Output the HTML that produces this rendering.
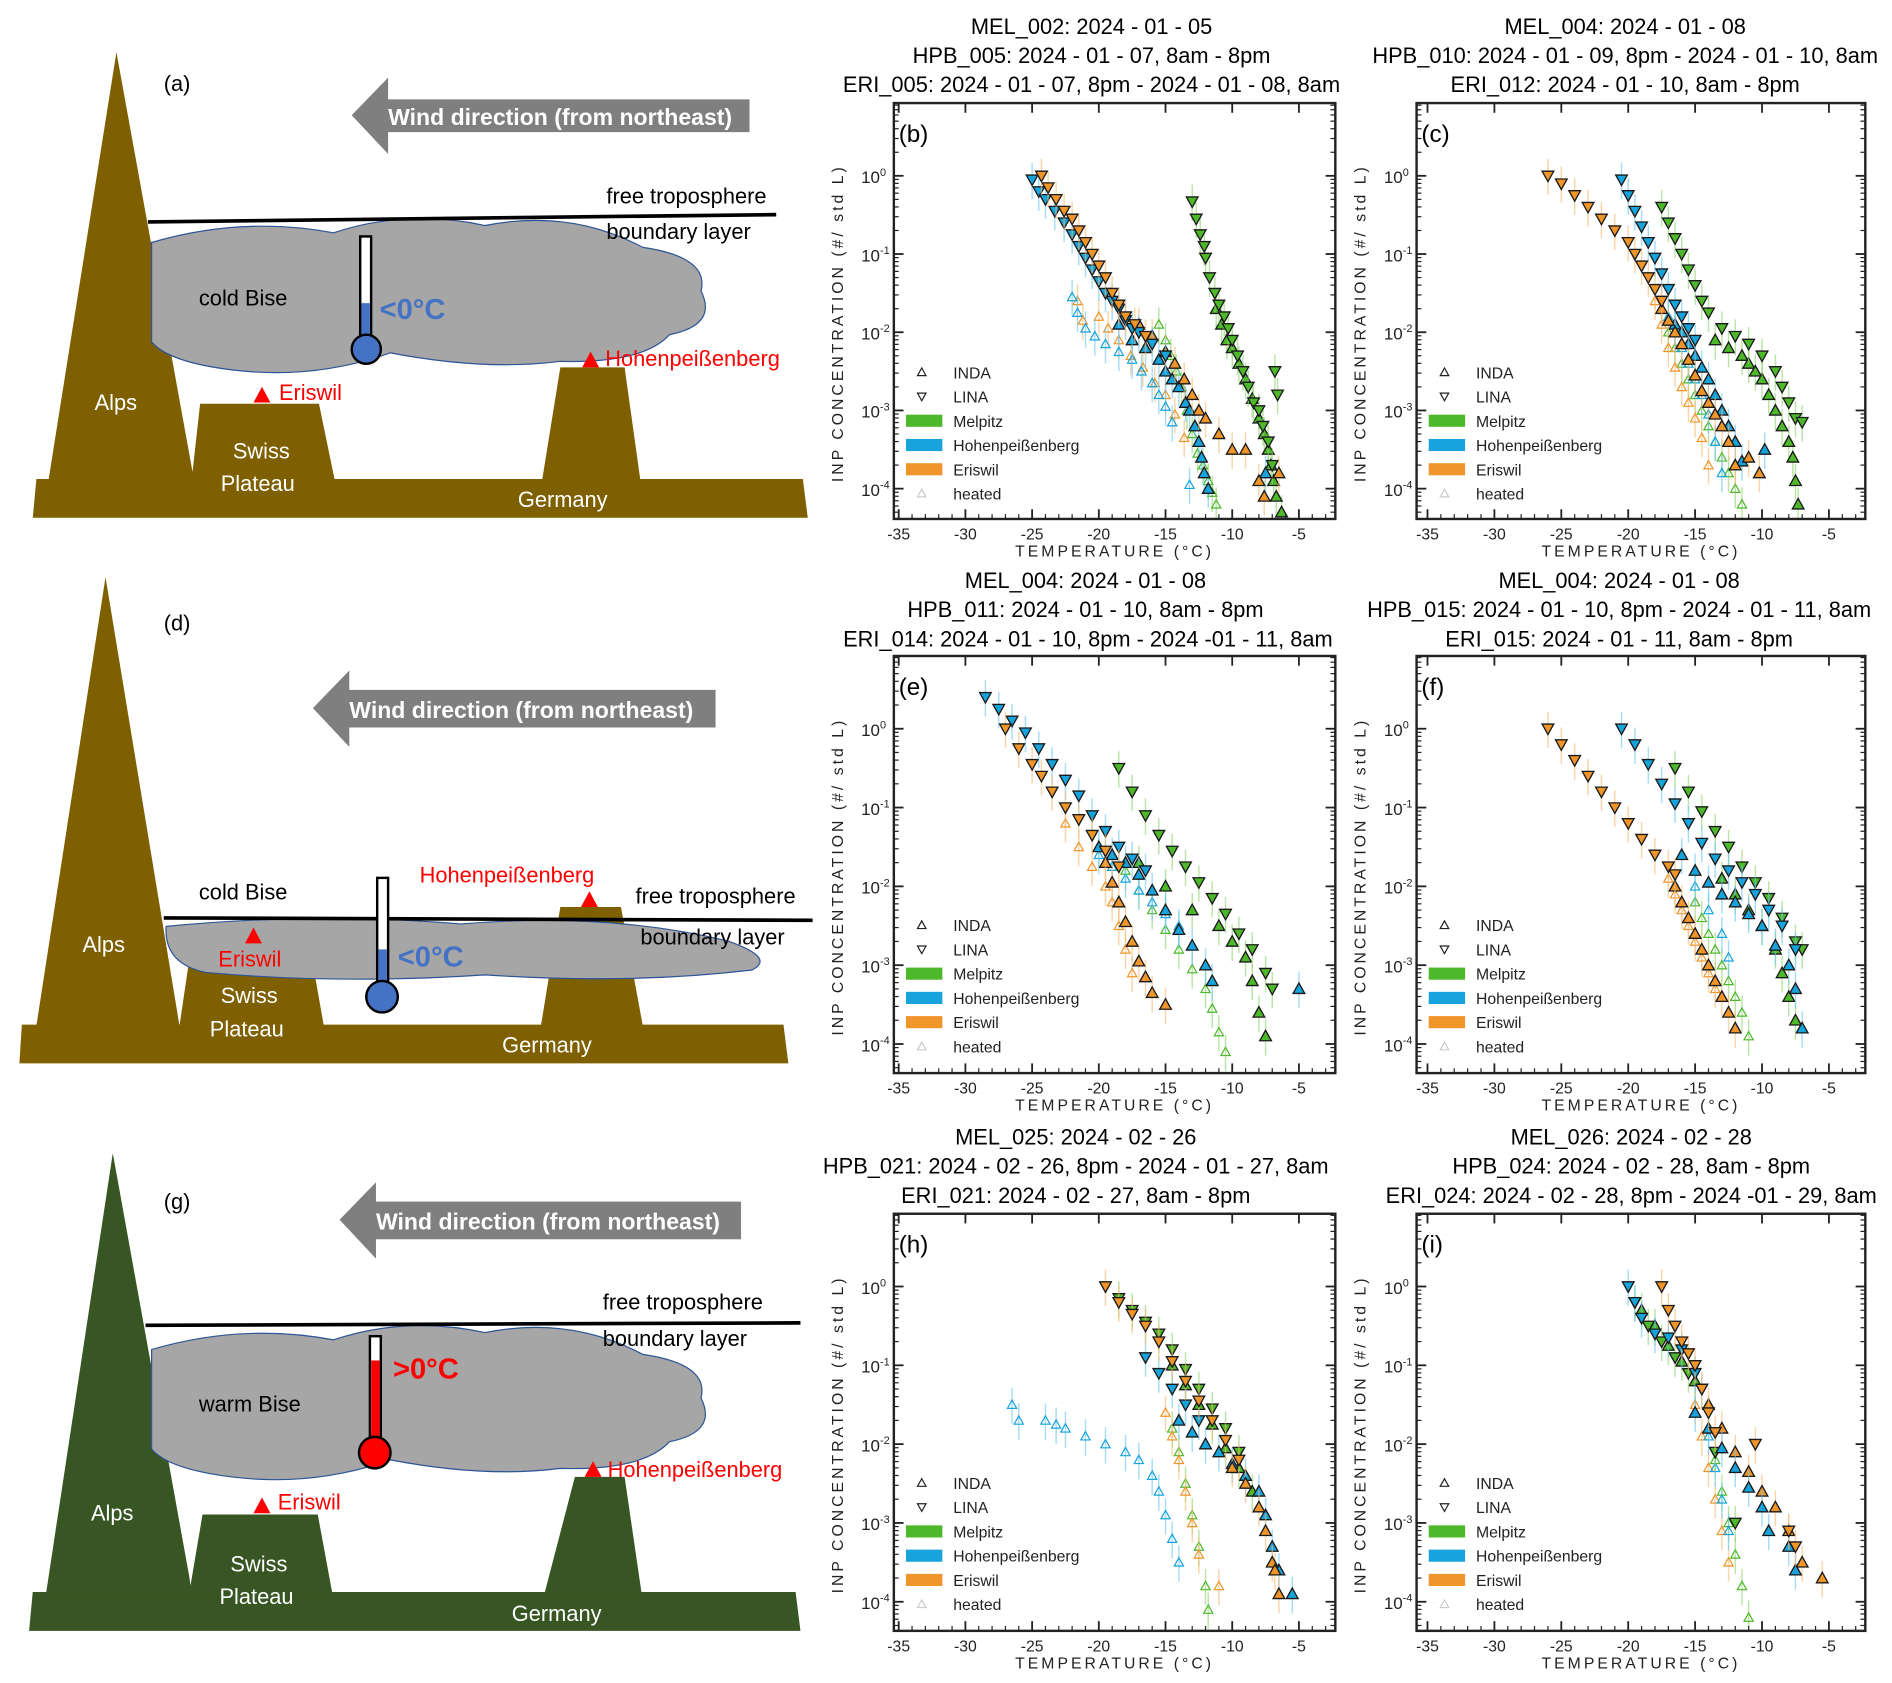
<!DOCTYPE html>
<html><head><meta charset="utf-8">
<style>
html,body{margin:0;padding:0;background:#fff;}
svg{display:block;font-family:"Liberation Sans",sans-serif;}
.t{font-size:18px;fill:#000;}
</style></head>
<body>
<svg id="fig" width="1892" height="1683" viewBox="0 0 1560 1388" preserveAspectRatio="none" xmlns="http://www.w3.org/2000/svg">
<rect width="1560" height="1388" fill="#fff"/>

<!-- Schematic (a) -->
<g>
  <polygon points="30,395 662,395 666,427 27,427" fill="#7f6000"/>
  <polygon points="40,396 96,43 158,385 160,396" fill="#7f6000"/>
  <polygon points="158,396 165,333 263,333 276,396" fill="#7f6000"/>
  <polygon points="447,396 462,303 515,303 528,396" fill="#7f6000"/>
  <path d="M125,200 Q200,178 275,192 Q335,172 400,186 Q470,172 530,204 Q585,212 578,240 Q592,268 552,276 Q530,300 462,298 Q400,306 322,291 Q262,312 200,306 Q140,300 125,282 Z" fill="#a6a6a6" stroke="#2e5597" stroke-width="1"/>
  <line x1="122" y1="183" x2="640" y2="177" stroke="#000" stroke-width="3"/>
  <text x="500" y="168" class="t" font-size="19">free troposphere</text>
  <text x="500" y="197" class="t" font-size="19">boundary layer</text>
  <text x="164" y="252" class="t" font-size="22">cold Bise</text>
  <rect x="297" y="195" width="9" height="92" fill="#fff" stroke="#000" stroke-width="2"/>
  <rect x="298" y="250" width="7" height="40" fill="#4472c4"/>
  <circle cx="302" cy="288" r="12" fill="#4472c4" stroke="#000" stroke-width="2"/>
  <text x="313" y="263" font-size="24" font-weight="bold" fill="#4472c4">&lt;0°C</text>
  <polygon points="209,332 216,319 223,332" fill="#f00"/>
  <text x="230" y="330" font-size="18" fill="#f00">Eriswil</text>
  <polygon points="480,303 487,290 494,303" fill="#f00"/>
  <text x="499" y="302" font-size="18" fill="#f00">Hohenpeißenberg</text>
  <text x="78" y="338" font-size="18" fill="#fff">Alps</text>
  <text x="192" y="378" font-size="18" fill="#fff">Swiss</text>
  <text x="182" y="405" font-size="18" fill="#fff">Plateau</text>
  <text x="427" y="418" font-size="18" fill="#fff">Germany</text>
  <polygon points="290,95 320,64 320,82 618,82 618,109 320,109 320,127" fill="#7f7f7f"/>
  <text x="320" y="103" font-size="19" font-weight="bold" fill="#fff">Wind direction (from northeast)</text>
  <text x="135" y="75" class="t" font-size="20">(a)</text>
</g>

<!-- Schematic (d) -->
<g>
  <polygon points="18,845 646,845 650,877 16,877" fill="#7f6000"/>
  <polygon points="30,846 87,476 148,846" fill="#7f6000"/>
  <polygon points="148,846 158,778 255,778 267,846" fill="#7f6000"/>
  <polygon points="446,846 462,748 512,748 530,846" fill="#7f6000"/>
  <path d="M137,764 Q260,752 380,762 Q500,752 600,776 Q640,790 620,800 Q520,812 400,804 Q280,812 170,802 Q135,795 137,764 Z" fill="#a6a6a6" stroke="#2e5597" stroke-width="1"/>
  <line x1="135" y1="757" x2="670" y2="759" stroke="#000" stroke-width="3"/>
  <text x="164" y="742" class="t" font-size="22">cold Bise</text>
  <rect x="311" y="724" width="9" height="92" fill="#fff" stroke="#000" stroke-width="2"/>
  <rect x="312" y="783" width="7" height="40" fill="#4472c4"/>
  <circle cx="315" cy="822" r="13" fill="#4472c4" stroke="#000" stroke-width="2"/>
  <text x="328" y="797" font-size="24" font-weight="bold" fill="#4472c4">&lt;0°C</text>
  <polygon points="202,778 209,765 216,778" fill="#f00"/>
  <text x="180" y="797" font-size="18" fill="#f00">Eriswil</text>
  <polygon points="479,748 486,735 493,748" fill="#f00"/>
  <text x="346" y="728" font-size="18" fill="#f00">Hohenpeißenberg</text>
  <text x="524" y="745" class="t" font-size="19">free troposphere</text>
  <text x="528" y="779" class="t" font-size="19">boundary layer</text>
  <text x="68" y="785" font-size="18" fill="#fff">Alps</text>
  <text x="182" y="827" font-size="18" fill="#fff">Swiss</text>
  <text x="173" y="855" font-size="18" fill="#fff">Plateau</text>
  <text x="414" y="868" font-size="18" fill="#fff">Germany</text>
  <polygon points="258,584 288,553 288,569 590,569 590,600 288,600 288,616" fill="#7f7f7f"/>
  <text x="288" y="592" font-size="19" font-weight="bold" fill="#fff">Wind direction (from northeast)</text>
  <text x="135" y="520" class="t" font-size="20">(d)</text>
</g>

<!-- Schematic (g) -->
<g>
  <polygon points="27,1313 656,1313 660,1345 24,1345" fill="#375623"/>
  <polygon points="38,1314 93,951 156,1300 158,1314" fill="#375623"/>
  <polygon points="156,1314 167,1249 262,1249 274,1314" fill="#375623"/>
  <polygon points="449,1314 474,1218 515,1218 529,1314" fill="#375623"/>
  <path transform="translate(0,913)" d="M125,200 Q200,178 275,192 Q335,172 400,186 Q470,172 530,204 Q585,212 578,240 Q592,268 552,276 Q530,300 462,298 Q400,306 322,291 Q262,312 200,306 Q140,300 125,282 Z" fill="#a6a6a6" stroke="#2e5597" stroke-width="1"/>
  <line x1="120" y1="1093" x2="660" y2="1091" stroke="#000" stroke-width="3"/>
  <text x="497" y="1080" class="t" font-size="19">free troposphere</text>
  <text x="497" y="1110" class="t" font-size="19">boundary layer</text>
  <text x="164" y="1164" class="t" font-size="22">warm Bise</text>
  <rect x="305" y="1102" width="9" height="90" fill="#fff" stroke="#000" stroke-width="2"/>
  <rect x="306" y="1122" width="7" height="70" fill="#f00"/>
  <circle cx="309" cy="1198" r="13" fill="#f00" stroke="#000" stroke-width="2"/>
  <text x="324" y="1137" font-size="24" font-weight="bold" fill="#f00">&gt;0°C</text>
  <polygon points="209,1248 216,1235 223,1248" fill="#f00"/>
  <text x="229" y="1245" font-size="18" fill="#f00">Eriswil</text>
  <polygon points="482,1218 489,1205 496,1218" fill="#f00"/>
  <text x="501" y="1218" font-size="18" fill="#f00">Hohenpeißenberg</text>
  <text x="75" y="1254" font-size="18" fill="#fff">Alps</text>
  <text x="190" y="1296" font-size="18" fill="#fff">Swiss</text>
  <text x="181" y="1323" font-size="18" fill="#fff">Plateau</text>
  <text x="422" y="1337" font-size="18" fill="#fff">Germany</text>
  <polygon points="280,1006 310,975 310,991 611,991 611,1022 310,1022 310,1038" fill="#7f7f7f"/>
  <text x="310" y="1014" font-size="19" font-weight="bold" fill="#fff">Wind direction (from northeast)</text>
  <text x="135" y="997" class="t" font-size="20">(g)</text>
</g>

<!-- titles -->
<g font-size="18" fill="#000" text-anchor="middle">
  <text x="900" y="28">MEL_002:  2024 - 01 - 05</text>
  <text x="900" y="52">HPB_005:  2024 - 01 - 07,  8am - 8pm</text>
  <text x="900" y="76">ERI_005:  2024 - 01 - 07,  8pm - 2024 - 01 - 08,  8am</text>
  <text x="1340" y="28">MEL_004:  2024 - 01 - 08</text>
  <text x="1340" y="52">HPB_010:  2024 - 01 - 09,  8pm - 2024 - 01 - 10,  8am</text>
  <text x="1340" y="76">ERI_012:  2024 - 01 - 10,  8am - 8pm</text>
  <text x="895" y="485">MEL_004:  2024 - 01 - 08</text>
  <text x="895" y="509">HPB_011:  2024 - 01 - 10,  8am - 8pm</text>
  <text x="897" y="533">ERI_014:  2024 - 01 - 10,  8pm - 2024 -01 - 11,  8am</text>
  <text x="1335" y="485">MEL_004:  2024 - 01 - 08</text>
  <text x="1335" y="509">HPB_015:  2024 - 01 - 10,  8pm -  2024 - 01 - 11,   8am</text>
  <text x="1335" y="533">ERI_015:  2024 - 01 - 11,  8am - 8pm</text>
  <text x="887" y="944">MEL_025:  2024 - 02 - 26</text>
  <text x="887" y="968">HPB_021:  2024 - 02 - 26,  8pm -  2024 - 01 - 27,   8am</text>
  <text x="887" y="992">ERI_021:  2024 - 02 - 27,  8am - 8pm</text>
  <text x="1345" y="944">MEL_026:  2024 - 02 - 28</text>
  <text x="1345" y="968">HPB_024:  2024 - 02 - 28,  8am - 8pm</text>
  <text x="1345" y="992">ERI_024:  2024 - 02 - 28,  8pm - 2024 -01 - 29,  8am</text>
</g>
<g id="charts"></g>
</svg>

<script>
// ---- data: temperature (°C) and log10 INP concentration (#/std L) ----
const xTicks = [-35,-30,-25,-20,-15,-10,-5];
const yDecades = [0,-1,-2,-3,-4];
const legendLabels = ["INDA","LINA","Melpitz","Hohenpeißenberg","Eriswil","heated"];

// panel b
const b_mel_lina_T=[-13,-12.7,-12.4,-12.1,-12,-11.7,-11.3,-11,-10.6,-10.3,-10,-9.6,-9.2,-8.8,-8.4,-8,-7.7,-7.3,-7,-6.8,-6.6];
const b_mel_lina_C=[-0.33,-0.55,-0.75,-0.9,-1.05,-1.3,-1.5,-1.65,-1.8,-1.95,-2.1,-2.3,-2.5,-2.7,-2.9,-3.0,-3.2,-3.4,-3.7,-2.5,-2.8];
const b_mel_inda_T=[-11.2,-10.8,-10.4,-10,-9.5,-9,-8.5,-8,-7.6,-7.3,-7.1,-6.9,-6.7,-6.3,-5.8];
const b_mel_inda_C=[-1.7,-1.9,-2.1,-2.2,-2.4,-2.6,-2.85,-3.1,-3.3,-3.5,-3.7,-3.9,-4.1,-4.3,-4.6];
const b_hpb_lina_T=[-25,-24.5,-24,-23.3,-22.6,-22,-21.5,-21,-20.5,-20,-19.5,-19,-18.5,-18,-17.5,-17,-16,-15];
const b_hpb_lina_C=[-0.05,-0.2,-0.3,-0.45,-0.6,-0.75,-0.9,-1.05,-1.2,-1.35,-1.5,-1.6,-1.7,-1.85,-1.95,-2.0,-2.15,-2.3];
const b_hpb_inda_T=[-18.5,-17.5,-16.5,-15.5,-15,-14.5,-14,-13.5,-13.2,-12.8,-12.5,-12.3,-12.1,-11.8,-7.5];
const b_hpb_inda_C=[-1.9,-2.1,-2.2,-2.35,-2.5,-2.6,-2.7,-2.9,-3.0,-3.2,-3.4,-3.6,-3.8,-4.0,-3.8];
const b_eri_lina_T=[-24.3,-23.8,-23.2,-22.6,-22,-21.5,-21,-20.5,-20,-19.5,-19,-18.5,-18,-17.3,-16.5];
const b_eri_lina_C=[0,-0.15,-0.3,-0.45,-0.55,-0.7,-0.85,-1.0,-1.15,-1.3,-1.5,-1.65,-1.8,-1.9,-2.05];
const b_eri_inda_T=[-17,-16,-15,-14.3,-13.6,-13,-12.5,-12,-11,-10,-9,-8,-7.6,-6.5];
const b_eri_inda_C=[-1.9,-2.05,-2.25,-2.4,-2.6,-2.8,-3.0,-3.1,-3.3,-3.5,-3.5,-3.9,-4.1,-3.8];
const b_hpb_heat_T=[-22,-21.6,-21,-20.3,-19.5,-18.5,-17.5,-16.8,-16,-15.5,-15,-14.5,-13.2];
const b_hpb_heat_C=[-1.55,-1.75,-1.95,-2.05,-2.15,-2.25,-2.35,-2.5,-2.65,-2.8,-2.95,-3.15,-3.95];
const b_eri_heat_T=[-21.6,-21.2,-20,-19.3,-18.5,-17.6,-16.7,-15.8,-15,-14.3,-13.6];
const b_eri_heat_C=[-1.6,-1.85,-1.8,-1.95,-2.1,-2.3,-2.45,-2.65,-2.8,-3.05,-3.35];
const b_mel_heat_T=[-15.5,-15,-14.6,-14.2,-13.8,-13.4,-13,-12.6,-12.2,-11.8,-11.5,-11.2];
const b_mel_heat_C=[-1.9,-2.1,-2.3,-2.5,-2.7,-3,-3.3,-3.55,-3.7,-3.9,-4.05,-4.2];

// panel c
const c_eri_lina_T=[-26,-25,-24,-23,-22,-21,-20,-19.5,-19,-18.5,-18,-17.5];
const c_eri_lina_C=[0,-0.1,-0.25,-0.4,-0.55,-0.7,-0.85,-1.0,-1.15,-1.3,-1.45,-1.6];
const c_eri_inda_T=[-17.5,-17,-16.5,-16,-15.5,-15,-14.5,-14,-13.5,-13,-12.5,-12,-11,-10.2];
const c_eri_inda_C=[-1.7,-1.85,-2.0,-2.15,-2.35,-2.55,-2.75,-2.9,-3.05,-3.2,-3.4,-3.7,-3.6,-3.8];
const c_hpb_lina_T=[-20.5,-20,-19.5,-19,-18.5,-18,-17.5,-17,-16.5,-16,-15.5,-15];
const c_hpb_lina_C=[-0.05,-0.25,-0.45,-0.65,-0.85,-1.05,-1.25,-1.45,-1.65,-1.8,-1.95,-2.1];
const c_hpb_inda_T=[-16.5,-16,-15.5,-15,-14.5,-14,-13.5,-13,-12.5,-12,-11.5,-9.8];
const c_hpb_inda_C=[-1.9,-2.0,-2.15,-2.3,-2.45,-2.6,-2.8,-3.0,-3.2,-3.4,-3.65,-3.5];
const c_mel_lina_T=[-17.5,-17,-16.5,-16,-15.5,-15,-14.5,-14,-13,-12,-11,-10,-9,-8.5,-8,-7.5,-7];
const c_mel_lina_C=[-0.4,-0.6,-0.8,-1.0,-1.2,-1.4,-1.6,-1.75,-1.95,-2.05,-2.15,-2.3,-2.5,-2.7,-2.9,-3.1,-3.15];
const c_mel_inda_T=[-13.5,-12.5,-11.5,-11,-10.5,-10,-9.5,-9,-8.5,-8,-7.7,-7.5,-7.3];
const c_mel_inda_C=[-2.1,-2.2,-2.3,-2.4,-2.5,-2.6,-2.8,-3.0,-3.2,-3.4,-3.6,-3.9,-4.2];
const c_eri_heat_T=[-18,-17.5,-17,-16.5,-16,-15.5,-15,-14.5,-14];
const c_eri_heat_C=[-1.6,-1.9,-2.2,-2.45,-2.7,-2.9,-3.1,-3.35,-3.7];
const c_mel_heat_T=[-17,-16.5,-16,-15.5,-15,-14.5,-14,-13.5,-13,-12.5,-12,-11.5];
const c_mel_heat_C=[-2.0,-2.2,-2.4,-2.6,-2.8,-3.0,-3.2,-3.4,-3.6,-3.8,-4.0,-4.2];
const c_hpb_heat_T=[-17,-16.5,-16,-15.5,-15,-14.5,-14,-13.5,-13];
const c_hpb_heat_C=[-1.8,-2.0,-2.2,-2.4,-2.6,-2.8,-3.05,-3.4,-3.8];

// panel e
const e_hpb_lina_T=[-28.5,-27.5,-26.5,-25.5,-24.5,-23.5,-22.5,-21.5,-20.5,-19.5,-18.5,-17.5,-16.5];
const e_hpb_lina_C=[0.4,0.25,0.1,-0.05,-0.25,-0.45,-0.65,-0.85,-1.1,-1.3,-1.5,-1.65,-1.8];
const e_hpb_inda_T=[-20,-19,-18,-17,-16,-15,-14,-13,-12,-11.5,-5];
const e_hpb_inda_C=[-1.5,-1.6,-1.7,-1.85,-2.05,-2.3,-2.55,-2.75,-3.0,-3.2,-3.3];
const e_eri_lina_T=[-27,-26,-25,-24.3,-23.5,-22.5,-21.5,-20.5,-19.5,-18.5];
const e_eri_lina_C=[0,-0.25,-0.45,-0.6,-0.8,-1.0,-1.15,-1.35,-1.55,-1.75];
const e_eri_inda_T=[-19.5,-19,-18.5,-18,-17.5,-17,-16.5,-16,-15];
const e_eri_inda_C=[-1.7,-1.95,-2.2,-2.45,-2.7,-2.95,-3.15,-3.35,-3.5];
const e_mel_lina_T=[-18.5,-17.5,-16.5,-15.5,-14.5,-13.5,-12.5,-11.5,-10.5,-9.5,-8.5,-7.5,-7];
const e_mel_lina_C=[-0.5,-0.8,-1.1,-1.35,-1.55,-1.75,-1.95,-2.15,-2.35,-2.6,-2.8,-3.1,-3.3];
const e_mel_inda_T=[-17,-15,-13,-11,-10,-9,-8.5,-8,-7.5];
const e_mel_inda_C=[-1.7,-2.0,-2.3,-2.5,-2.7,-2.9,-3.2,-3.6,-3.9];
const e_eri_heat_T=[-22.5,-21.5,-20.5,-19.5,-19,-18.5,-18,-17.5];
const e_eri_heat_C=[-1.2,-1.5,-1.75,-2.0,-2.2,-2.5,-2.8,-3.1];
const e_mel_heat_T=[-18,-17,-16,-15,-14,-13,-12,-11.5,-11,-10.5];
const e_mel_heat_C=[-1.8,-2.05,-2.3,-2.55,-2.8,-3.05,-3.3,-3.55,-3.85,-4.1];
const e_hpb_heat_T=[-20,-19,-18,-17,-16,-15,-14];
const e_hpb_heat_C=[-1.6,-1.75,-1.9,-2.05,-2.2,-2.35,-2.5];

// panel f
const f_eri_lina_T=[-26,-25,-24,-23,-22,-21,-20,-19,-18,-17,-16.5];
const f_eri_lina_C=[0,-0.2,-0.4,-0.6,-0.8,-1.0,-1.2,-1.4,-1.6,-1.75,-1.85];
const f_eri_inda_T=[-16.5,-16,-15.5,-15,-14.5,-14,-13.5,-13,-12.5,-12];
const f_eri_inda_C=[-2,-2.2,-2.4,-2.6,-2.8,-3.0,-3.2,-3.4,-3.6,-3.8];
const f_hpb_lina_T=[-20.5,-19.5,-18.5,-17.5,-16.5,-15.5,-14.5,-13.5,-12.5,-11.5,-10.5,-9.5,-8.5,-7.5];
const f_hpb_lina_C=[0,-0.2,-0.45,-0.7,-0.95,-1.2,-1.45,-1.65,-1.8,-1.95,-2.1,-2.3,-2.5,-2.8];
const f_hpb_inda_T=[-16,-15,-14,-13,-12,-11,-10,-9,-8,-7.5,-7];
const f_hpb_inda_C=[-1.6,-1.8,-1.95,-2.1,-2.2,-2.35,-2.5,-2.75,-3.0,-3.3,-3.8];
const f_mel_lina_T=[-16.5,-15.5,-14.5,-13.5,-12.5,-11.5,-10.5,-9.5,-8.5,-7.5,-7];
const f_mel_lina_C=[-0.5,-0.8,-1.05,-1.3,-1.5,-1.75,-1.95,-2.15,-2.4,-2.7,-2.8];
const f_mel_inda_T=[-13,-12,-11,-10,-9,-8.5,-8,-7.5];
const f_mel_inda_C=[-1.9,-2.1,-2.3,-2.5,-2.8,-3.1,-3.4,-3.7];
const f_eri_heat_T=[-17,-16.5,-16,-15.5,-15,-14.5,-14,-13.5];
const f_eri_heat_C=[-1.9,-2.1,-2.3,-2.5,-2.7,-2.9,-3.1,-3.3];
const f_mel_heat_T=[-15,-14.5,-14,-13.5,-13,-12.5,-12,-11.5,-11];
const f_mel_heat_C=[-2.2,-2.4,-2.6,-2.8,-3.0,-3.2,-3.4,-3.6,-3.9];
const f_hpb_heat_T=[-15,-14,-13,-12.5];
const f_hpb_heat_C=[-2.0,-2.3,-2.6,-2.9];

// panel h
const h_eri_lina_T=[-19.5,-18.5,-17.5,-16.5,-15.5,-14.5,-13.5,-12.5,-11.5,-10.5,-9.5];
const h_eri_lina_C=[0,-0.2,-0.35,-0.5,-0.7,-0.95,-1.2,-1.45,-1.7,-1.95,-2.2];
const h_eri_inda_T=[-10,-9,-8,-7.5,-7,-6.5,-6.8];
const h_eri_inda_C=[-2.3,-2.5,-2.8,-3.1,-3.5,-3.9,-3.6];
const h_mel_lina_T=[-18.5,-17.5,-16.5,-15.5,-14.5,-13.5,-12.5,-11.5,-10.5,-9.5];
const h_mel_lina_C=[-0.15,-0.3,-0.45,-0.6,-0.8,-1.05,-1.3,-1.55,-1.8,-2.1];
const h_mel_inda_T=[-14.5,-13.5,-12.5,-11.5,-10.5,-9.5,-8.5];
const h_mel_inda_C=[-1.0,-1.25,-1.5,-1.75,-2.05,-2.3,-2.6];
const h_hpb_lina_T=[-16.5,-15.5,-14.5,-13.5,-12.5];
const h_hpb_lina_C=[-0.9,-1.1,-1.3,-1.5,-1.7];
const h_hpb_inda_T=[-14,-13,-12,-11,-10,-9,-8,-7.5,-7,-6.5,-5.5];
const h_hpb_inda_C=[-1.7,-1.85,-2.0,-2.1,-2.25,-2.4,-2.6,-2.9,-3.3,-3.6,-3.9];
const h_hpb_heat_T=[-26.5,-26,-24,-23.2,-22.5,-21,-19.5,-18,-17,-16,-15.5,-15,-14.5,-14];
const h_hpb_heat_C=[-1.5,-1.7,-1.7,-1.75,-1.8,-1.9,-2.0,-2.1,-2.2,-2.4,-2.6,-2.9,-3.2,-3.5];
const h_eri_heat_T=[-15,-14.5,-14,-13.5,-13,-12.5,-11];
const h_eri_heat_C=[-1.6,-1.9,-2.2,-2.6,-3.0,-3.4,-3.8];
const h_mel_heat_T=[-14.5,-14,-13.5,-13,-12.5,-12,-11.8];
const h_mel_heat_C=[-1.8,-2.1,-2.5,-2.9,-3.3,-3.8,-4.1];

// panel i
const i_eri_lina_T=[-17.5,-17,-16.5,-16,-15.5,-15,-14.5,-14,-13.5,-10.5,-8,-7.5];
const i_eri_lina_C=[0,-0.3,-0.5,-0.7,-0.85,-1.0,-1.3,-1.6,-1.85,-2.0,-3.1,-3.3];
const i_eri_inda_T=[-14,-13,-12,-11,-10,-9,-8,-7,-5.5];
const i_eri_inda_C=[-1.5,-1.8,-2.1,-2.35,-2.6,-2.8,-3.1,-3.5,-3.7];
const i_hpb_lina_T=[-20,-19.5,-19,-18,-17,-16,-15,-14.5];
const i_hpb_lina_C=[0,-0.2,-0.4,-0.6,-0.65,-0.8,-1.1,-1.3];
const i_hpb_inda_T=[-15,-14,-13,-12,-11,-10,-9.5,-8,-7.5];
const i_hpb_inda_C=[-1.6,-1.8,-2.05,-2.3,-2.55,-2.8,-3.1,-3.3,-3.6];
const i_mel_lina_T=[-19.5,-18.5,-17.5,-16.5,-15.5,-13.5,-12];
const i_mel_lina_C=[-0.2,-0.5,-0.7,-0.9,-1.1,-2.1,-3.0];
const i_mel_inda_T=[-19,-18,-17,-16,-15];
const i_mel_inda_C=[-0.3,-0.5,-0.75,-0.95,-1.2];
const i_eri_heat_T=[-15,-14.5,-14,-13.5,-13,-12.5];
const i_eri_heat_C=[-1.5,-1.9,-2.3,-2.7,-3.1,-3.5];
const i_mel_heat_T=[-13.5,-13,-12.5,-12,-11.5,-11];
const i_mel_heat_C=[-2.2,-2.6,-3.0,-3.4,-3.8,-4.2];
const i_hpb_heat_T=[-14,-13.5,-13,-12.5];
const i_hpb_heat_C=[-1.9,-2.3,-2.7,-3.1];

const panelIds=["b","c","e","f","h","i"];
const dataSets={
 b:[["mel","heat",b_mel_heat_T,b_mel_heat_C],["eri","heat",b_eri_heat_T,b_eri_heat_C],["hpb","heat",b_hpb_heat_T,b_hpb_heat_C],
    ["mel","inda",b_mel_inda_T,b_mel_inda_C],["mel","lina",b_mel_lina_T,b_mel_lina_C],["hpb","inda",b_hpb_inda_T,b_hpb_inda_C],
    ["eri","inda",b_eri_inda_T,b_eri_inda_C],["hpb","lina",b_hpb_lina_T,b_hpb_lina_C],["eri","lina",b_eri_lina_T,b_eri_lina_C]],
 c:[["mel","heat",c_mel_heat_T,c_mel_heat_C],["eri","heat",c_eri_heat_T,c_eri_heat_C],["hpb","heat",c_hpb_heat_T,c_hpb_heat_C],
    ["mel","inda",c_mel_inda_T,c_mel_inda_C],["mel","lina",c_mel_lina_T,c_mel_lina_C],["hpb","inda",c_hpb_inda_T,c_hpb_inda_C],
    ["eri","inda",c_eri_inda_T,c_eri_inda_C],["hpb","lina",c_hpb_lina_T,c_hpb_lina_C],["eri","lina",c_eri_lina_T,c_eri_lina_C]],
 e:[["mel","heat",e_mel_heat_T,e_mel_heat_C],["eri","heat",e_eri_heat_T,e_eri_heat_C],["hpb","heat",e_hpb_heat_T,e_hpb_heat_C],
    ["mel","inda",e_mel_inda_T,e_mel_inda_C],["mel","lina",e_mel_lina_T,e_mel_lina_C],["hpb","inda",e_hpb_inda_T,e_hpb_inda_C],
    ["eri","inda",e_eri_inda_T,e_eri_inda_C],["hpb","lina",e_hpb_lina_T,e_hpb_lina_C],["eri","lina",e_eri_lina_T,e_eri_lina_C]],
 f:[["mel","heat",f_mel_heat_T,f_mel_heat_C],["eri","heat",f_eri_heat_T,f_eri_heat_C],["hpb","heat",f_hpb_heat_T,f_hpb_heat_C],
    ["mel","inda",f_mel_inda_T,f_mel_inda_C],["mel","lina",f_mel_lina_T,f_mel_lina_C],["hpb","inda",f_hpb_inda_T,f_hpb_inda_C],
    ["eri","inda",f_eri_inda_T,f_eri_inda_C],["hpb","lina",f_hpb_lina_T,f_hpb_lina_C],["eri","lina",f_eri_lina_T,f_eri_lina_C]],
 h:[["mel","heat",h_mel_heat_T,h_mel_heat_C],["eri","heat",h_eri_heat_T,h_eri_heat_C],["hpb","heat",h_hpb_heat_T,h_hpb_heat_C],
    ["mel","inda",h_mel_inda_T,h_mel_inda_C],["hpb","lina",h_hpb_lina_T,h_hpb_lina_C],["hpb","inda",h_hpb_inda_T,h_hpb_inda_C],
    ["mel","lina",h_mel_lina_T,h_mel_lina_C],["eri","inda",h_eri_inda_T,h_eri_inda_C],["eri","lina",h_eri_lina_T,h_eri_lina_C]],
 i:[["mel","heat",i_mel_heat_T,i_mel_heat_C],["eri","heat",i_eri_heat_T,i_eri_heat_C],["hpb","heat",i_hpb_heat_T,i_hpb_heat_C],
    ["mel","inda",i_mel_inda_T,i_mel_inda_C],["mel","lina",i_mel_lina_T,i_mel_lina_C],["eri","inda",i_eri_inda_T,i_eri_inda_C],
    ["hpb","inda",i_hpb_inda_T,i_hpb_inda_C],["hpb","lina",i_hpb_lina_T,i_hpb_lina_C],["eri","lina",i_eri_lina_T,i_eri_lina_C]]
};

// ---- layout ----
const NS="http://www.w3.org/2000/svg";
const layout={
 b:{L:737,R:1101,T:85,B:428,x35:741,x5:1071,y0:145,yDec:64.5},
 c:{L:1168,R:1538,T:85,B:428,x35:1177,x5:1508,y0:145,yDec:64.5},
 e:{L:737,R:1101,T:541,B:885,x35:741,x5:1071,y0:601,yDec:65},
 f:{L:1168,R:1538,T:541,B:885,x35:1177,x5:1508,y0:601,yDec:65},
 h:{L:737,R:1101,T:1001,B:1345,x35:741,x5:1071,y0:1061,yDec:65},
 i:{L:1168,R:1538,T:1001,B:1345,x35:1177,x5:1508,y0:1061,yDec:65}
};
const fillC={mel:"#4cb82a",hpb:"#17a3dc",eri:"#f0952a"};
const lightC={mel:"#8fd46f",hpb:"#6cc8ef",eri:"#f6bb73"};
const siteName={mel:"melpitz",hpb:"hohenpeissenberg",eri:"eriswil"};

function el(tag,attrs,parent,txt){const e=document.createElementNS(NS,tag);for(const k in attrs)e.setAttribute(k,attrs[k]);if(txt!==undefined)e.textContent=txt;parent.appendChild(e);return e;}
function tri(x,y,s,up){return up?`${x-s},${y+s*0.8} ${x+s},${y+s*0.8} ${x},${y-s}`:`${x-s},${y-s*0.8} ${x+s},${y-s*0.8} ${x},${y+s}`;}

const root=document.getElementById("charts");
panelIds.forEach(id=>{
  const P=layout[id];
  const xs=t=>P.x35+(t+35)*(P.x5-P.x35)/30;
  const ys=c=>P.y0-c*P.yDec;
  const g=el("g",{},root);
  
  
  el("rect",{x:P.L,y:P.T,width:P.R-P.L,height:P.B-P.T,fill:"#fff",stroke:"none"},g);
  // series
  const marks=el("g",{"clip-path":""},g);
  dataSets[id].forEach(s=>{
    const [site,kind,T,C]=s;
    const sg=el("g",{},marks);
    
    
    T.forEach((t,k)=>{
      const x=xs(t),y=ys(C[k]);
      if(y<P.T||y>P.B)return;
      el("line",{x1:x,y1:Math.max(P.T,y-14),x2:x,y2:Math.min(P.B,y+16),stroke:lightC[site],"stroke-width":1.2,opacity:0.6},sg);
    });
    T.forEach((t,k)=>{
      const x=xs(t),y=ys(C[k]);
      if(y<P.T||y>P.B)return;
      let m;
      if(kind==="heat") m=el("polygon",{points:tri(x,y,3.8,true),fill:"none",stroke:fillC[site],"stroke-width":1},sg);
      else m=el("polygon",{points:tri(x,y,4.8,kind==="inda"),fill:fillC[site],stroke:"#1a1a1a","stroke-width":1.1},sg);
      
      
    });
  });
  // frame
  const fr=el("rect",{x:P.L,y:P.T,width:P.R-P.L,height:P.B-P.T,fill:"none",stroke:"#222","stroke-width":2},g);
  
  
  // x ticks
  const xa=el("g",{},g);
  
  
  xTicks.forEach(t=>{
    const x=xs(t);
    el("line",{x1:x,y1:P.B,x2:x,y2:P.B-8,stroke:"#222","stroke-width":1.5},xa);
    el("line",{x1:x,y1:P.T,x2:x,y2:P.T+8,stroke:"#222","stroke-width":1.5},xa);
    for(let d=1;d<5&&t+d<=-3;d++){const xm=xs(t+d);el("line",{x1:xm,y1:P.B,x2:xm,y2:P.B-4,stroke:"#222"},xa);}
    const lb=el("text",{x:x,y:P.B+17,"font-size":13,"text-anchor":"middle",fill:"#222"},xa,String(t));
    
    
  });
  const xt=el("text",{x:(P.L+P.R)/2,y:P.B+31,"font-size":13,"text-anchor":"middle","letter-spacing":"2.5",fill:"#222"},g,"TEMPERATURE (°C)");
  
  
  // y ticks
  const ya=el("g",{},g);
  
  
  for(let d=1;d>=-5;d--){
    for(let m=1;m<10;m++){
      const y=ys(d+Math.log10(m));
      if(y<P.T||y>P.B)continue;
      const len=m===1?8:4;
      el("line",{x1:P.L,y1:y,x2:P.L+len,y2:y,stroke:"#222","stroke-width":m===1?1.5:1},ya);
      el("line",{x1:P.R,y1:y,x2:P.R-len,y2:y,stroke:"#222","stroke-width":m===1?1.5:1},ya);
    }
  }
  yDecades.forEach(d=>{
    const y=ys(d);
    const tx=el("text",{x:P.L-27,y:y+6,"font-size":14,fill:"#222"},ya);
    
    
    el("tspan",{},tx,"10");
    el("tspan",{dy:-6,"font-size":9},tx,String(d));
  });
  const yt=el("text",{x:P.L-42,y:(P.T+P.B)/2+10,"font-size":13,"text-anchor":"middle","letter-spacing":"2.5",fill:"#222",transform:`rotate(-90 ${P.L-42} ${(P.T+P.B)/2+10})`},g,"INP CONCENTRATION (#/ std L)");
  
  
  const pl=el("text",{x:P.L+4,y:P.T+32,"font-size":20,fill:"#000"},g,"("+id+")");
  
  
  // legend
  const lg=el("g",{},g);
  
  
  const ly=P.T+223, lx=P.L+23;
  legendLabels.forEach((lab,k)=>{
    const y=ly+k*20;
    const ent=el("g",{},lg);
    
    
    if(k===0) el("polygon",{points:tri(lx,y-1,3.5,true),fill:"none",stroke:"#222"},ent);
    else if(k===1) el("polygon",{points:tri(lx,y-1,3.5,false),fill:"none",stroke:"#222"},ent);
    else if(k<5){const s=["mel","hpb","eri"][k-2];el("rect",{x:lx-13,y:y-6,width:30,height:10,fill:fillC[s]},ent);}
    else el("polygon",{points:tri(lx,y-1,3.5,true),fill:"none",stroke:"#ccc"},ent);
    el("text",{x:lx+26,y:y+4,"font-size":13,fill:"#222"},ent,lab);
  });
});
</script>
</body></html>
